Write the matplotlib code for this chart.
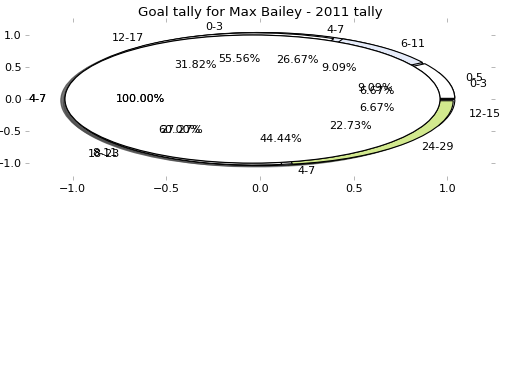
import matplotlib
matplotlib.use('Agg')
import matplotlib.pyplot as plt

# goals per age bracket, one pie per tally
labels_a = ['0-5', '6-11', '12-17', '18-23', '24-29']
goals_a = [2, 2, 7, 6, 5]
labels_b = ['0-3', '4-7', '8-11', '12-15']
goals_b = [1, 4, 9, 1]
labels_c = ['0-3', '4-7']
goals_c = [5, 4]
labels_d = ['4-7']
goals_d = [3]
labels_e = ['4-7']
goals_e = [2]

wedge_colors = ['white', '#e6ecfa', 'white', 'white', '#d2e98e']

fig = plt.figure(figsize=(6.5, 4.875), dpi=80)
ax = fig.add_axes([0.0565, 0.549, 0.887, 0.394])

for labels, goals in [(labels_c, goals_c), (labels_b, goals_b),
                      (labels_a, goals_a), (labels_d, goals_d),
                      (labels_e, goals_e)]:
    ax.pie(goals, labels=labels, autopct='%1.2f%%', shadow=True,
           explode=[0.04] * len(goals), colors=wedge_colors[:len(goals)],
           wedgeprops=dict(edgecolor='black', linewidth=1), frame=True)

ax.set_aspect('auto')
ax.set_xlim(-1.23, 1.23)
ax.set_ylim(-1.2, 1.2)
ax.set_xticks([-1.0, -0.5, 0.0, 0.5, 1.0])
ax.set_yticks([-1.0, -0.5, 0.0, 0.5, 1.0])
for s in ax.spines.values():
    s.set_visible(False)
ax.tick_params(top=True, right=True, color='#b0b0b0', labelcolor='black')
ax.set_title('Goal tally for Max Bailey - 2011 tally')

plt.savefig('out.png', dpi=80)
